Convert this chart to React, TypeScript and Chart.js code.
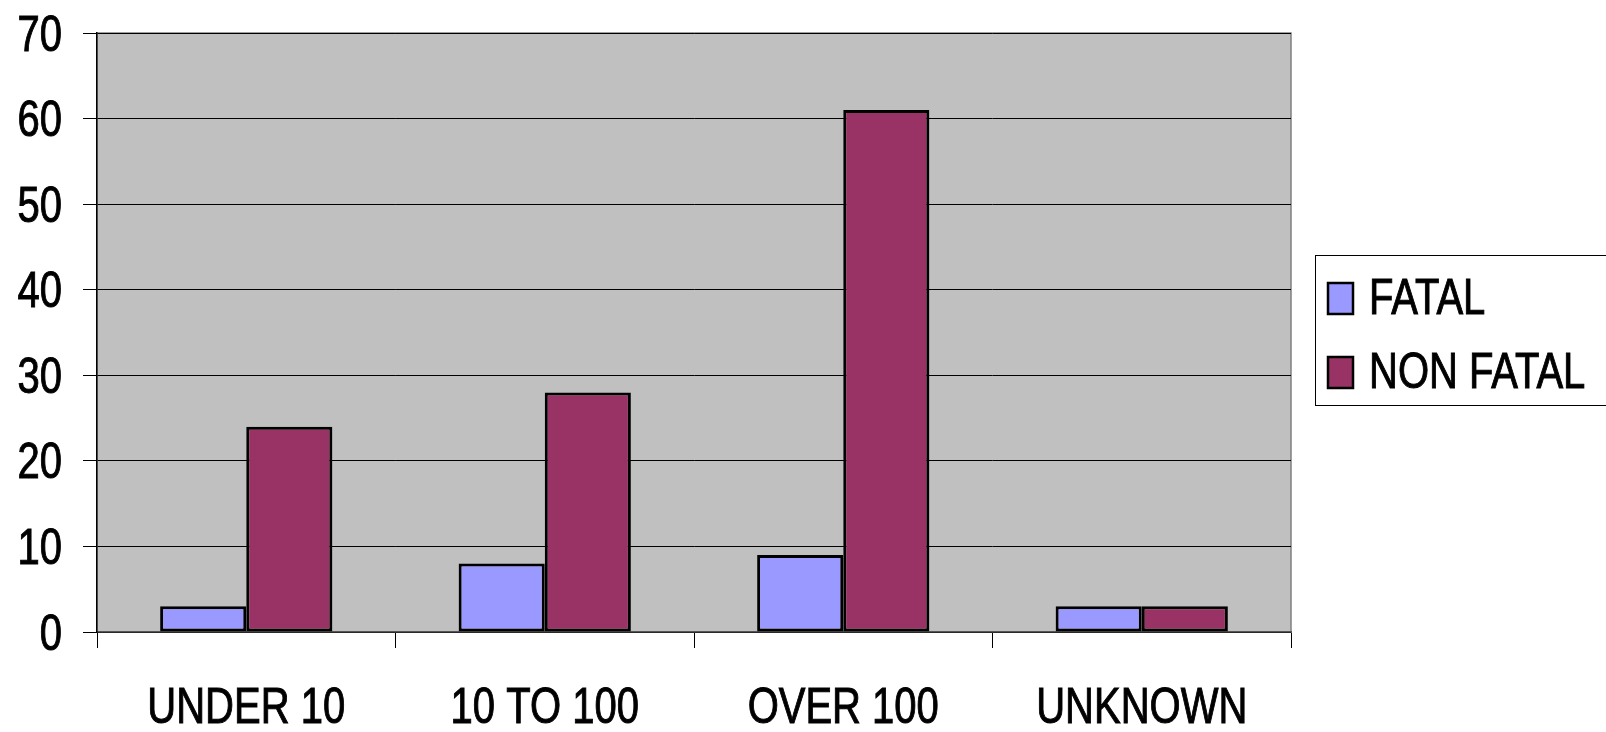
import React, { useEffect, useRef } from "react";
import { Chart, registerables } from "chart.js";

Chart.register(...registerables);

const categories = ["UNDER 10", "10 TO 100", "OVER 100", "UNKNOWN"];
const fatal = [3, 8, 9, 3];
const nonFatal = [24, 28, 61, 3];
const yTicks = [0, 10, 20, 30, 40, 50, 60, 70];
const seriesNames = ["FATAL", "NON FATAL"];

const FONT = "'Liberation Sans', Arial, sans-serif";
const FONT_SIZE = 50;
// the labels use a narrow face: squeeze the glyphs horizontally
const SQUEEZE = 0.8;

function narrowText(ctx: CanvasRenderingContext2D, text: string, x: number, y: number, align: "left" | "right" | "center") {
  ctx.save();
  ctx.translate(x, y);
  ctx.scale(SQUEEZE, 1);
  ctx.textAlign = align;
  ctx.textBaseline = "alphabetic";
  ctx.fillText(text, 0, 0);
  ctx.lineWidth = 1;
  ctx.strokeStyle = ctx.fillStyle;
  ctx.strokeText(text, 0, 0);
  ctx.restore();
}

// grey plot background with a thin frame
const plotBackground = {
  id: "plotBackground",
  beforeDraw(chart: any) {
    const { ctx, chartArea: a } = chart;
    ctx.save();
    ctx.fillStyle = "#c0c0c0";
    ctx.fillRect(a.left, a.top, a.right - a.left, a.bottom - a.top);
    ctx.strokeStyle = "#808080";
    ctx.lineWidth = 1.5;
    ctx.strokeRect(a.left, a.top, a.right - a.left, a.bottom - a.top);
    ctx.restore();
  },
};

// axis labels, placed from the scales' own tick positions
const axisLabels = {
  id: "axisLabels",
  afterDraw(chart: any) {
    const { ctx } = chart;
    const xs = chart.scales.x;
    const ys = chart.scales.y;
    ctx.save();
    ctx.fillStyle = "#000";
    ctx.font = `${FONT_SIZE}px ${FONT}`;
    ys.ticks.forEach((t: any) => {
      const y = ys.getPixelForValue(t.value);
      narrowText(ctx, String(t.value), ys.right - 35, y + 17.5, "right");
    });
    (chart.data.labels as string[]).forEach((lab, i) => {
      const x = xs.getPixelForTick(i);
      narrowText(ctx, lab, x, 723, "center");
    });
    ctx.restore();
  },
};

// boxed legend to the right of the plot
const boxLegend = {
  id: "boxLegend",
  afterDraw(chart: any) {
    const { ctx } = chart;
    ctx.save();
    ctx.strokeStyle = "#000";
    ctx.lineWidth = 1;
    ctx.strokeRect(1315.5, 255.5, 320, 150);
    ctx.font = `${FONT_SIZE}px ${FONT}`;
    const baselines = [314, 388];
    chart.data.datasets.forEach((ds: any, i: number) => {
      const b = baselines[i];
      ctx.fillStyle = ds.backgroundColor;
      ctx.fillRect(1328, b - 31, 25, 31);
      ctx.strokeStyle = "#000";
      ctx.lineWidth = 2.5;
      ctx.strokeRect(1328, b - 31, 25, 31);
      ctx.fillStyle = "#000";
      narrowText(ctx, ds.label, 1369, b, "left");
    });
    ctx.restore();
  },
};

export default function App() {
  const ref = useRef<HTMLCanvasElement>(null);

  useEffect(() => {
    document.body.style.margin = "0";
    const chart = new Chart(ref.current!, {
      type: "bar",
      data: {
        labels: categories,
        datasets: [
          {
            label: seriesNames[0],
            data: fatal,
            backgroundColor: "#9999ff",
            borderColor: "#000",
            borderWidth: 3,
            borderSkipped: false,
          },
          {
            label: seriesNames[1],
            data: nonFatal,
            backgroundColor: "#993366",
            borderColor: "#000",
            borderWidth: 3,
            borderSkipped: false,
          },
        ],
      },
      options: {
        responsive: false,
        animation: false,
        devicePixelRatio: 1,
        layout: { padding: { top: 33, right: 315, left: 0, bottom: 0 } },
        datasets: { bar: { barPercentage: 1, categoryPercentage: 0.577 } },
        plugins: { legend: { display: false }, tooltip: { enabled: false } },
        scales: {
          x: {
            afterFit(scale: any) {
              scale.height = 100;
              scale.paddingLeft = 0;
              scale.paddingRight = 0;
            },
            grid: {
              display: true,
              drawOnChartArea: false,
              drawTicks: true,
              tickLength: 16,
              color: "#000",
              lineWidth: 1,
            },
            border: { display: true, color: "#555", width: 1.5 },
            ticks: { display: false },
          },
          y: {
            min: 0,
            max: 70,
            afterFit(scale: any) {
              scale.width = 97;
              scale.paddingTop = 0;
              scale.paddingBottom = 0;
            },
            afterBuildTicks(scale: any) {
              scale.ticks = yTicks.map((v) => ({ value: v }));
            },
            grid: {
              color: "#000",
              lineWidth: 1,
              drawTicks: true,
              tickLength: 14,
            },
            border: { display: true, color: "#000", width: 1.5 },
            ticks: { display: false },
          },
        },
      },
      plugins: [plotBackground, axisLabels, boxLegend],
    });
    return () => chart.destroy();
  }, []);

  return <canvas ref={ref} width={1606} height={732} />;
}
